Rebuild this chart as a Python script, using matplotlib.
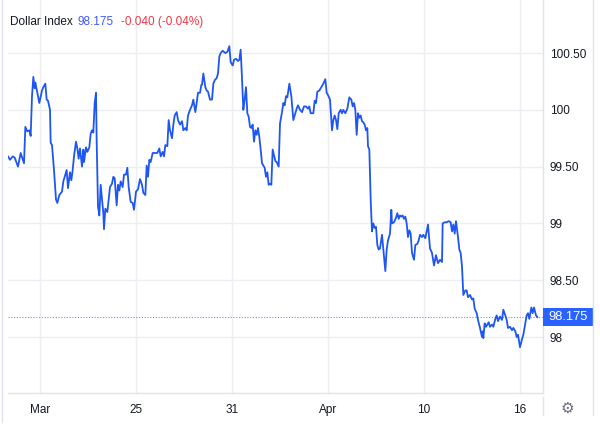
import matplotlib
matplotlib.use('Agg')
import matplotlib.pyplot as plt
import matplotlib.transforms as mtransforms
from matplotlib.patches import Rectangle
from matplotlib.lines import Line2D

plt.rcParams['font.family'] = ['Liberation Sans', 'DejaVu Sans']

# hours since the "Mar" tick (trading time, 6 sessions between ticks)
hours = [-48, -45, -41, -38, -33, -29, -24, -22, -19, -16, -14, -12, -10, -8, -7, -4, -1, 3, 5, 8,
         10, 12, 15, 16, 18, 21, 24, 26, 29, 33, 35, 38, 40, 42, 45, 47, 49, 51, 54, 56,
         58, 60, 63, 65, 66, 69, 71, 74, 76, 78, 80, 82, 84, 85, 87, 89, 91, 93, 95, 96,
         98, 101, 103, 105, 108, 110, 112, 115, 117, 119, 121, 124, 126, 129, 131, 133, 136, 139, 141, 144,
         147, 150, 153, 155, 158, 160, 162, 164, 166, 169, 173, 176, 179, 181, 184, 186, 188, 191, 193, 195,
         198, 200, 202, 205, 207, 210, 213, 215, 218, 220, 222, 225, 228, 230, 233, 235, 237, 240, 242, 243,
         245, 248, 250, 252, 255, 258, 260, 262, 265, 267, 269, 271, 274, 278, 281, 284, 286, 289, 291, 294,
         297, 299, 301, 303, 305, 307, 309, 311, 313, 315, 317, 319, 321, 323, 325, 327, 329, 331, 333, 335,
         337, 339, 341, 343, 345, 347, 349, 351, 353, 355, 358, 360, 363, 365, 367, 369, 371, 374, 377, 380,
         383, 385, 387, 390, 393, 396, 399, 402, 404, 406, 410, 412, 414, 416, 419, 422, 425, 428, 430, 432,
         435, 438, 440, 442, 444, 446, 448, 451, 453, 455, 458, 461, 464, 467, 469, 471, 473, 475, 477, 479,
         481, 483, 485, 487, 489, 491, 492, 494, 496, 498, 500, 502, 504, 506, 508, 510, 513, 515, 518, 520,
         522, 525, 527, 528, 531, 534, 536, 538, 540, 542, 544, 546, 548, 550, 552, 554, 556, 558, 561, 563,
         566, 568, 570, 573, 575, 578, 580, 582, 585, 588, 591, 594, 597, 600, 603, 604, 607, 610, 613, 616,
         618, 620, 622, 624, 627, 629, 631, 633, 635, 638, 640, 642, 645, 648, 650, 652, 655, 657, 660, 663,
         664, 665, 667, 669, 671, 673, 675, 678, 680, 683, 685, 687, 690, 693, 695, 698, 700, 702, 705, 708,
         710, 713, 715, 717, 720, 723, 725, 728, 730, 732, 734, 737, 739, 741, 744, 746]

index_values = [99.59, 99.56, 99.59, 99.58, 99.50, 99.62, 99.53, 99.85, 99.81, 99.82, 99.77, 100.12, 100.29, 100.19, 100.24, 100.15, 100.06, 100.17, 100.20, 100.23,
                100.09, 100.08, 100.00, 99.71, 99.69, 99.47, 99.21, 99.18, 99.25, 99.28, 99.37, 99.43, 99.47, 99.31, 99.45, 99.38, 99.47, 99.59, 99.72, 99.66,
                99.57, 99.66, 99.50, 99.65, 99.54, 99.67, 99.63, 99.67, 99.79, 99.82, 99.80, 100.06, 100.15, 99.73, 99.15, 99.07, 99.34, 99.21, 99.09, 98.95,
                99.13, 99.10, 99.21, 99.32, 99.35, 99.41, 99.40, 99.16, 99.34, 99.29, 99.37, 99.32, 99.43, 99.43, 99.49, 99.32, 99.19, 99.18, 99.12, 99.28,
                99.30, 99.39, 99.34, 99.27, 99.25, 99.51, 99.41, 99.56, 99.54, 99.62, 99.62, 99.62, 99.66, 99.59, 99.63, 99.59, 99.69, 99.68, 99.91, 99.82,
                99.75, 99.87, 99.95, 99.98, 99.91, 99.87, 99.90, 99.82, 99.84, 99.82, 99.95, 100.00, 100.04, 100.09, 99.98, 100.06, 100.15, 100.15, 100.22, 100.22,
                100.32, 100.20, 100.17, 100.16, 100.09, 100.09, 100.23, 100.26, 100.28, 100.32, 100.47, 100.50, 100.52, 100.50, 100.51, 100.56, 100.42, 100.39, 100.44, 100.45,
                100.43, 100.44, 100.53, 100.28, 100.00, 100.09, 100.20, 99.97, 99.94, 99.85, 99.84, 99.87, 99.72, 99.82, 99.78, 99.84, 99.76, 99.65, 99.53, 99.51,
                99.49, 99.41, 99.45, 99.34, 99.35, 99.34, 99.65, 99.60, 99.55, 99.54, 99.50, 99.88, 99.98, 100.06, 100.04, 100.12, 100.11, 100.23, 100.12, 99.91,
                99.97, 100.01, 100.04, 100.00, 99.98, 100.03, 100.03, 100.01, 100.03, 99.97, 99.97, 100.08, 100.06, 100.16, 100.17, 100.20, 100.23, 100.27, 100.15, 100.13,
                100.09, 99.82, 99.91, 99.95, 99.91, 99.83, 99.97, 100.00, 99.97, 100.00, 99.97, 100.01, 100.11, 100.09, 100.03, 100.06, 100.00, 99.78, 99.97, 99.93,
                99.95, 99.90, 99.89, 99.87, 99.82, 99.84, 99.68, 99.65, 99.21, 98.93, 99.00, 98.96, 98.97, 98.81, 98.77, 98.78, 98.90, 98.77, 98.58, 98.77,
                98.85, 98.91, 99.12, 99.00, 99.01, 99.05, 99.09, 99.04, 99.07, 99.06, 99.07, 99.04, 99.06, 99.00, 98.88, 98.94, 98.91, 98.74, 98.68, 98.81,
                98.82, 98.85, 98.90, 98.88, 98.90, 98.87, 98.93, 98.99, 98.78, 98.74, 98.63, 98.72, 98.65, 98.68, 98.66, 99.00, 99.01, 99.01, 99.02, 99.01,
                98.93, 98.99, 98.91, 99.02, 98.88, 98.77, 98.74, 98.62, 98.37, 98.41, 98.41, 98.35, 98.37, 98.33, 98.34, 98.25, 98.21, 98.15, 98.08, 98.00,
                98.05, 97.99, 98.12, 98.09, 98.11, 98.13, 98.09, 98.11, 98.09, 98.16, 98.19, 98.14, 98.18, 98.15, 98.24, 98.19, 98.15, 98.08, 98.09, 98.06,
                98.08, 98.05, 98.00, 98.02, 97.91, 97.98, 98.02, 98.12, 98.19, 98.21, 98.16, 98.26, 98.21, 98.26, 98.19, 98.175]

last_price = 98.175
change_text = '-0.040 (-0.04%)'

x_tick_pos = [0, 144, 288, 432, 576, 720]
x_tick_labels = ['Mar', '25', '31', 'Apr', '10', '16']
y_tick_pos = [100.5, 100.0, 99.5, 99.0, 98.5, 98.0]
y_tick_labels = ['100.50', '100', '99.50', '99', '98.50', '98']

line_blue = '#1f56f2'
grid_col = '#eceef2'

fig = plt.figure(figsize=(6, 4.28), dpi=100)
ax = fig.add_axes([8 / 600, 1 - 393 / 428, 535 / 600, 393 / 428])

ax.plot(hours, index_values, color=line_blue, lw=1.3, solid_joinstyle='round', zorder=3)
ax.axhline(last_price, color='#2962ff', lw=0.8, ls=(0, (1, 1.5)), alpha=0.7, zorder=2)

ax.set_xlim(-48, 754.5)
ax.set_ylim(97.507, 100.967)

ax.set_xticks(x_tick_pos)
ax.set_xticklabels(x_tick_labels)
ax.set_yticks(y_tick_pos)
ax.set_yticklabels(y_tick_labels)
ax.yaxis.tick_right()
ax.tick_params(axis='both', length=0, labelsize=8.5, colors='#131722')
ax.tick_params(axis='y', pad=5)
ax.tick_params(axis='x', pad=8)
ax.grid(True, color=grid_col, lw=1)
ax.set_axisbelow(True)

for side in ['top', 'left']:
    ax.spines[side].set_visible(False)
for side in ['bottom', 'right']:
    ax.spines[side].set_color('#e0e3eb')
    ax.spines[side].set_linewidth(1)

# price badge on the right scale
trans = mtransforms.blended_transform_factory(ax.transAxes, ax.transData)
ax.add_patch(Rectangle((1.0, last_price - 0.08), 50 / 535, 0.16, transform=trans,
                       facecolor='#2962ff', edgecolor='none', clip_on=False, zorder=5))
ax.text(1.0 + 5 / 535, last_price, f'{last_price:.3f}', transform=trans, color='white',
        fontsize=9.3, va='center', ha='left', zorder=6, clip_on=False)

# header
fig.text(10 / 600, 1 - 22 / 428, 'Dollar Index', fontsize=8.5, color='#131722', va='center')
fig.text(78 / 600, 1 - 22 / 428, f'{last_price:.3f}', fontsize=8.5, color='#3d5afe', va='center')
fig.text(121 / 600, 1 - 22 / 428, change_text, fontsize=8.5, color='#f23645', va='center')

# frame lines of the widget
fig.add_artist(Line2D([2 / 600, 2 / 600], [1 - 422 / 428, 1], color='#e0e3eb', lw=1))
fig.add_artist(Line2D([593 / 600, 593 / 600], [1 - 415 / 428, 1], color='#e0e3eb', lw=1))
fig.add_artist(Line2D([543 / 600, 543 / 600], [1 - 415 / 428, 1 - 397 / 428], color='#e0e3eb', lw=1))

# settings gear
fig.text(567 / 600, 1 - 408 / 428, '\u2699', fontsize=11, color='#6a6d78', ha='center', va='center',
         family=['DejaVu Sans'])

fig.savefig('out.png', dpi=100)
